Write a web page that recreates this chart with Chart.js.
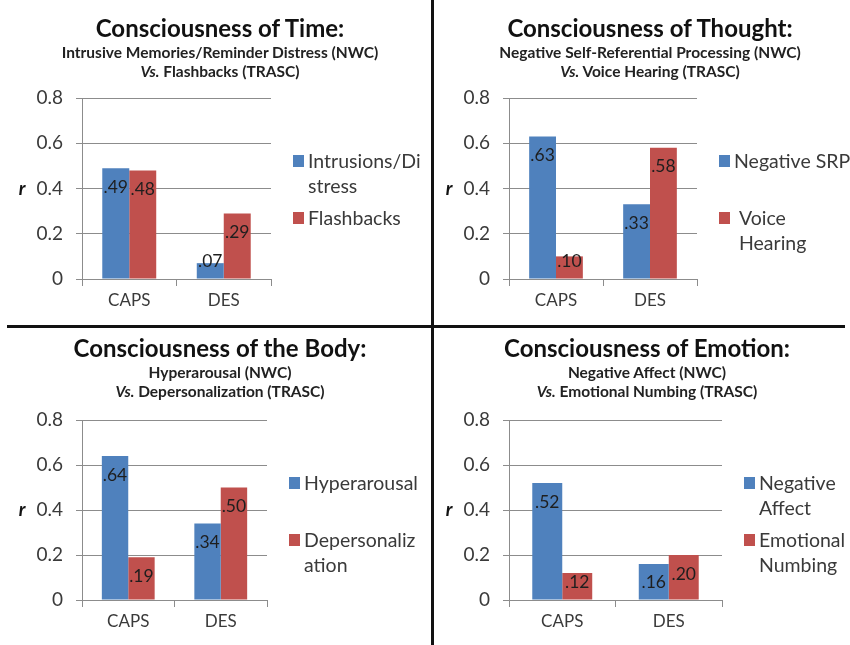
<!DOCTYPE html>
<html>
<head>
<meta charset="utf-8">
<script src="https://cdn.jsdelivr.net/npm/chart.js@4"></script>
<style>
  body { margin: 0; background: #fff; font-family: Lato, "Open Sans", sans-serif; }
  #page { position: relative; width: 850px; height: 645px; overflow: hidden; }
  .vline { position: absolute; left: 431px; top: 0; width: 3px; height: 645px; background: #111; }
  .hline { position: absolute; left: 7px; top: 325px; width: 838px; height: 3px; background: #111; }
  .panel { position: absolute; }
  .panel canvas { position: absolute; left: 0; top: 0; }
  .title { position: absolute; left: 0; text-align: center; color: #111; font-weight: 700; white-space: nowrap; }
  .title .main { font-size: 24px; line-height: 30px; }
  .title .sub { font-size: 15.5px; line-height: 19px; color: #222; }
</style>
</head>
<body>
<div id="page">
  <div class="vline"></div>
  <div class="hline"></div>
</div>
<script>
// categories and tick labels
const categories = ['CAPS', 'DES'];
const yTicks = [0, 0.2, 0.4, 0.6, 0.8];
const yTickLabels = ['0', '0.2', '0.4', '0.6', '0.8'];

// panel titles
const titles = [
  ['Consciousness of Time:', 'Intrusive Memories/Reminder Distress (NWC)', 'Flashbacks (TRASC)'],
  ['Consciousness of Thought:', 'Negative Self-Referential Processing (NWC)', 'Voice Hearing (TRASC)'],
  ['Consciousness of the Body:', 'Hyperarousal (NWC)', 'Depersonalization (TRASC)'],
  ['Consciousness of Emotion:', 'Negative Affect (NWC)', 'Emotional Numbing (TRASC)']
];

// series names (legend lines as they wrap in the picture)
const nwcNames = [['Intrusions/Di', 'stress'], ['Negative SRP'], ['Hyperarousal'], ['Negative', 'Affect']];
const trascNames = [['Flashbacks'], [' Voice', ' Hearing'], ['Depersonaliz', 'ation'], ['Emotional', 'Numbing']];

// correlation values r: [CAPS, DES]
const nwcValues = [[0.49, 0.07], [0.63, 0.33], [0.64, 0.34], [0.52, 0.16]];
const trascValues = [[0.48, 0.29], [0.10, 0.58], [0.19, 0.50], [0.12, 0.20]];

const blue = '#4f81bd';
const red = '#c0504d';
const gridColor = '#8c8c8c';
const textColor = '#3a3a3a';
const font = 'Lato, "Open Sans", sans-serif';

// panel boxes and chart area edges
const panels = [
  { x: 0,   y: 0,   w: 431, h: 325, left: 82, right: 271, top: 98, bottom: 279, tc: 220, tt: 13, pct: 0.571 },
  { x: 435, y: 0,   w: 415, h: 325, left: 74, right: 262, top: 98, bottom: 279, tc: 215, tt: 13, pct: 0.571 },
  { x: 0,   y: 328, w: 431, h: 317, left: 82, right: 267, top: 92, bottom: 272, tc: 220, tt: 5,  pct: 0.571 },
  { x: 435, y: 328, w: 415, h: 317, left: 74, right: 287, top: 92, bottom: 272, tc: 212, tt: 5,  pct: 0.563 }
];

const extras = {
  id: 'extras',
  afterDatasetsDraw(chart, args, opts) {
    const ctx = chart.ctx;
    const area = chart.chartArea;
    ctx.save();
    // value labels
    ctx.font = '17.5px ' + font;
    ctx.fillStyle = '#1e1e1e';
    ctx.textAlign = 'center';
    ctx.textBaseline = 'middle';
    chart.data.datasets.forEach((ds, di) => {
      chart.getDatasetMeta(di).data.forEach((bar, i) => {
        const y = Math.min(bar.y + 19, bar.base - 17);
        ctx.fillText(ds.data[i].toFixed(2).replace(/^0/, ''), bar.x, y);
      });
    });
    // r axis label
    ctx.font = 'italic bold 19px ' + font;
    ctx.fillStyle = '#111';
    ctx.textAlign = 'center';
    ctx.fillText('r', area.left - 60, chart.scales.y.getPixelForValue(0.4));
    // legend
    ctx.font = '19.5px ' + font;
    ctx.textAlign = 'left';
    opts.items.forEach((it, k) => {
      const y0 = area.top + 64 + k * 57;
      ctx.fillStyle = it.color;
      ctx.fillRect(area.right + 22, y0 - 7, 11, 12);
      ctx.fillStyle = textColor;
      it.lines.forEach((ln, j) => ctx.fillText(ln, area.right + 37, y0 + j * 25));
    });
    ctx.restore();
  }
};

panels.forEach((p, n) => {
  const page = document.getElementById('page');
  const div = document.createElement('div');
  div.className = 'panel';
  div.style.left = p.x + 'px';
  div.style.top = p.y + 'px';
  div.style.width = p.w + 'px';
  div.style.height = p.h + 'px';
  const canvas = document.createElement('canvas');
  div.appendChild(canvas);
  const t = document.createElement('div');
  t.className = 'title';
  t.style.top = p.tt + 'px';
  t.style.width = (2 * p.tc) + 'px';
  t.innerHTML = '<div class="main">' + titles[n][0] + '</div>' +
    '<div class="sub">' + titles[n][1] + '</div>' +
    '<div class="sub"><i>Vs.</i> ' + titles[n][2] + '</div>';
  div.appendChild(t);
  page.appendChild(div);
  canvas.width = p.w;
  canvas.height = p.h;

  new Chart(canvas, {
    type: 'bar',
    data: {
      labels: categories,
      datasets: [
        { label: nwcNames[n].join(''), data: nwcValues[n], backgroundColor: blue },
        { label: trascNames[n].join(' ').trim(), data: trascValues[n], backgroundColor: red }
      ]
    },
    options: {
      responsive: false,
      animation: false,
      layout: {
        padding: { left: p.left - 60, right: p.w - p.right, top: p.top, bottom: p.h - p.bottom - 40 }
      },
      datasets: { bar: { categoryPercentage: p.pct, barPercentage: 1.0 } },
      plugins: {
        legend: { display: false },
        tooltip: { enabled: false },
        extras: {
          items: [
            { color: blue, lines: nwcNames[n] },
            { color: red, lines: trascNames[n] }
          ]
        }
      },
      scales: {
        x: {
          afterFit: s => { s.height = 40; },
          grid: { offset: true, drawOnChartArea: false, drawTicks: true, tickLength: 7, color: gridColor },
          border: { color: gridColor },
          ticks: { color: textColor, font: { family: font, size: 17 }, padding: 4 }
        },
        y: {
          min: 0, max: 0.8,
          afterFit: s => { s.width = 60; },
          afterBuildTicks: s => { s.ticks = yTicks.map(v => ({ value: v })); },
          grid: { color: gridColor, tickLength: 6 },
          border: { color: gridColor },
          ticks: {
            color: textColor, font: { family: font, size: 19 }, padding: 13,
            callback: (v, i) => yTickLabels[i]
          }
        }
      }
    },
    plugins: [extras]
  });
});
</script>
</body>
</html>
